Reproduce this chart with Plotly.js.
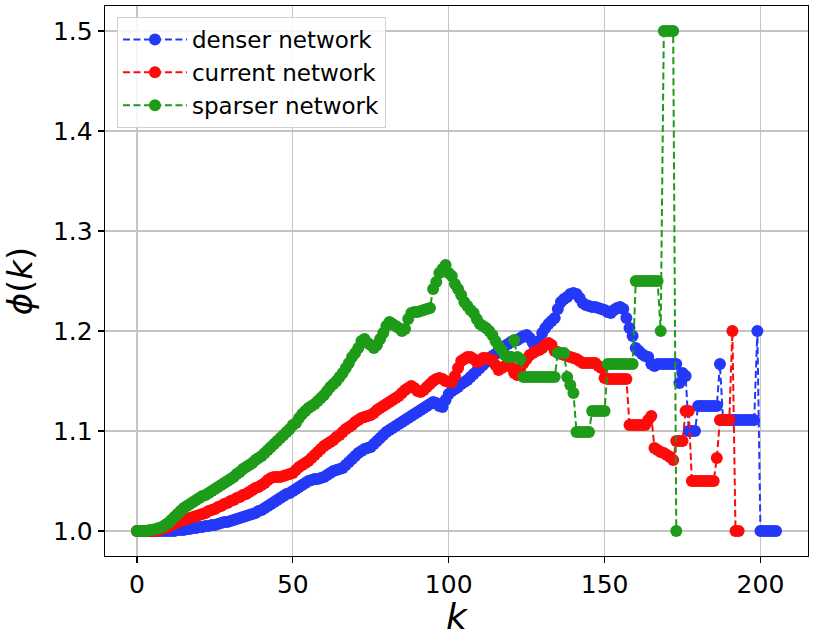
<!DOCTYPE html>
<html>
<head>
<meta charset="utf-8">
<script src="https://cdn.plot.ly/plotly-3.0.1.min.js"></script>
<style>
  html, body { margin: 0; padding: 0; background: #ffffff; }
  #chart { width: 813px; height: 637px; }
</style>
</head>
<body>
<div id="chart"></div>
<script>
// Series names
const seriesNames = ["denser network", "current network", "sparser network"];

// phi(k) values, index = k
const denser = [
  1.0,1.0,1.0,1.0,1.0,1.0,1.0,1.0,1.0,1.0,
  1.0,1.0,1.0,1.001,1.001,1.001,1.002,1.002,1.003,1.003,
  1.004,1.004,1.005,1.005,1.006,1.006,1.007,1.008,1.009,1.009,
  1.010,1.011,1.012,1.013,1.014,1.015,1.016,1.017,1.018,1.020,
  1.021,1.023,1.025,1.027,1.029,1.031,1.033,1.035,1.037,1.038,
  1.040,1.042,1.044,1.046,1.048,1.050,1.051,1.052,1.052,1.053,
  1.054,1.056,1.058,1.060,1.061,1.062,1.063,1.066,1.069,1.072,
  1.075,1.078,1.080,1.082,1.083,1.084,1.087,1.090,1.093,1.096,
  1.099,1.101,1.103,1.105,1.107,1.109,1.111,1.113,1.115,1.117,
  1.119,1.121,1.123,1.125,1.127,1.129,1.128,1.125,1.124,1.131,
  1.137,1.140,1.142,1.144,1.147,1.149,1.151,1.154,1.157,1.160,
  1.163,1.166,1.169,1.172,1.175,1.177,1.180,1.183,1.185,1.187,
  1.189,1.190,1.191,1.193,1.195,1.196,1.193,1.188,1.186,1.190,
  1.198,1.203,1.207,1.210,1.213,1.222,1.229,1.232,1.234,1.237,
  1.238,1.237,1.233,1.228,1.226,1.225,1.224,1.224,1.223,1.222,
  1.221,1.219,1.218,1.221,1.223,1.224,1.222,1.213,1.203,1.195,
  1.183,1.180,1.177,1.175,1.174,1.167,1.165,1.167,1.167,1.167,
  1.167,1.167,1.167,1.167,1.148,1.158,1.155,1.1,1.1,1.1,
  1.125,1.125,1.125,1.125,1.125,1.125,1.125,1.167,1.111,1.111,
  1.111,1.111,1.111,1.111,1.111,1.111,1.111,1.111,1.111,1.2,
  1.0,1.0,1.0,1.0,1.0,1.0
];

const current = [
  1.0,1.0,1.0,1.0,1.0,1.0,1.0,1.001,1.002,1.003,
  1.004,1.006,1.007,1.009,1.010,1.011,1.012,1.013,1.014,1.015,
  1.016,1.017,1.018,1.020,1.021,1.022,1.024,1.025,1.027,1.028,
  1.030,1.031,1.033,1.034,1.036,1.037,1.039,1.041,1.043,1.044,
  1.046,1.048,1.051,1.053,1.054,1.054,1.054,1.055,1.056,1.057,
  1.058,1.061,1.064,1.066,1.068,1.070,1.073,1.076,1.079,1.082,
  1.085,1.087,1.089,1.091,1.094,1.096,1.099,1.102,1.104,1.106,
  1.109,1.111,1.113,1.114,1.115,1.116,1.118,1.121,1.123,1.125,
  1.127,1.129,1.131,1.133,1.135,1.138,1.141,1.143,1.145,1.143,
  1.140,1.139,1.141,1.144,1.147,1.150,1.152,1.153,1.152,1.150,
  1.149,1.149,1.155,1.163,1.170,1.172,1.174,1.174,1.172,1.169,
  1.170,1.173,1.173,1.172,1.171,1.166,1.161,1.163,1.165,1.166,
  1.164,1.158,1.156,1.163,1.168,1.172,1.176,1.178,1.180,1.181,
  1.183,1.186,1.188,1.186,1.180,1.179,1.177,1.176,1.175,1.174,
  1.173,1.172,1.170,1.168,1.168,1.168,1.168,1.168,1.165,1.163,
  1.153,1.152,1.152,1.152,1.152,1.152,1.152,1.152,1.106,1.106,
  1.106,1.106,1.106,1.106,1.111,1.115,1.083,1.081,1.079,1.078,
  1.076,1.074,1.071,1.09,1.09,1.09,1.12,1.12,1.05,1.05,
  1.05,1.05,1.05,1.05,1.05,1.05,1.073,1.111,1.111,1.111,
  1.111,1.2,1.0,1.0
];

const sparser = [
  1.0,1.0,1.0,1.0,1.001,1.001,1.002,1.003,1.004,1.006,
  1.008,1.011,1.014,1.017,1.020,1.023,1.025,1.027,1.029,1.031,
  1.033,1.035,1.036,1.038,1.040,1.042,1.044,1.046,1.048,1.050,
  1.052,1.054,1.057,1.059,1.062,1.064,1.066,1.068,1.071,1.073,
  1.075,1.078,1.081,1.084,1.087,1.090,1.093,1.096,1.099,1.102,
  1.106,1.108,1.113,1.117,1.120,1.123,1.125,1.127,1.130,1.133,
  1.136,1.140,1.144,1.147,1.150,1.154,1.158,1.163,1.168,1.174,
  1.178,1.183,1.190,1.192,1.188,1.186,1.183,1.186,1.192,1.198,
  1.205,1.209,1.207,1.205,1.203,1.200,1.202,1.212,1.218,1.219,
  1.219,1.220,1.221,1.222,1.223,1.242,1.249,1.258,1.262,1.266,
  1.258,1.255,1.247,1.242,1.236,1.229,1.225,1.221,1.218,1.212,
  1.207,1.205,1.203,1.200,1.196,1.190,1.185,1.181,1.176,1.174,
  1.174,1.191,1.174,1.172,1.154,1.154,1.154,1.154,1.154,1.154,
  1.154,1.154,1.154,1.154,1.154,1.178,1.178,1.178,1.154,1.146,
  1.138,1.099,1.099,1.099,1.099,1.099,1.12,1.12,1.12,1.12,
  1.12,1.167,1.167,1.167,1.167,1.167,1.167,1.167,1.167,1.167,
  1.25,1.25,1.25,1.25,1.25,1.25,1.25,1.25,1.2,1.5,
  1.5,1.5,1.5,1.0
];

// Axis ticks
const xTicks = [0, 50, 100, 150, 200];
const yTicks = [1.0, 1.1, 1.2, 1.3, 1.4, 1.5];
const yTickLabels = ["1.0", "1.1", "1.2", "1.3", "1.4", "1.5"];

const seriesData = [denser, current, sparser];
const seriesColors = ["#2438f7", "#ff0a0a", "#1e9b18"];

const traces = seriesData.map((vals, i) => ({
  type: "scatter",
  mode: "lines+markers",
  name: seriesNames[i],
  x: vals.map((_, k) => k),
  y: vals,
  line: { color: seriesColors[i], width: 2, dash: "7px,3.5px" },
  marker: { color: seriesColors[i], size: 12, line: { width: 0 } }
}));

const FONT = "DejaVu Sans, sans-serif";

const layout = {
  width: 813,
  height: 637,
  margin: { l: 105, r: 5, t: 6, b: 81 },
  paper_bgcolor: "#ffffff",
  plot_bgcolor: "#ffffff",
  showlegend: true,
  font: { family: FONT, color: "#000000" },
  xaxis: {
    range: [-10.25, 215.25],
    tickvals: xTicks,
    ticktext: xTicks.map(String),
    tickfont: { family: FONT, size: 25, color: "#000" },
    ticks: "outside",
    ticklen: 6,
    tickwidth: 1.2,
    tickcolor: "#000",
    showline: true,
    mirror: true,
    linecolor: "#000",
    linewidth: 1.3,
    showgrid: true,
    gridcolor: "#c4c4c4",
    gridwidth: 1.3,
    zeroline: false,
    automargin: false,
    title: { text: "<i>k</i>", font: { family: FONT, size: 36, color: "#000" }, standoff: 10 }
  },
  yaxis: {
    range: [0.975, 1.525],
    tickvals: yTicks,
    ticktext: yTickLabels,
    tickfont: { family: FONT, size: 25, color: "#000" },
    ticks: "outside",
    ticklen: 6,
    tickwidth: 1.2,
    tickcolor: "#000",
    showline: true,
    mirror: true,
    linecolor: "#000",
    linewidth: 1.3,
    showgrid: true,
    gridcolor: "#c4c4c4",
    gridwidth: 1.3,
    zeroline: false,
    automargin: false,
    title: { text: "<i>ϕ</i>(<i>k</i>)", font: { family: FONT, size: 34, color: "#000" }, standoff: 10 }
  },
  legend: {
    x: 0.017,
    y: 0.98,
    xanchor: "left",
    yanchor: "top",
    bgcolor: "rgba(255,255,255,0.85)",
    bordercolor: "#d0d0d0",
    borderwidth: 1,
    font: { family: FONT, size: 23, color: "#000" },
    itemwidth: 64,
    tracegroupgap: 0
  }
};

Plotly.newPlot("chart", traces, layout, { staticPlot: true, displayModeBar: false });
</script>
</body>
</html>
